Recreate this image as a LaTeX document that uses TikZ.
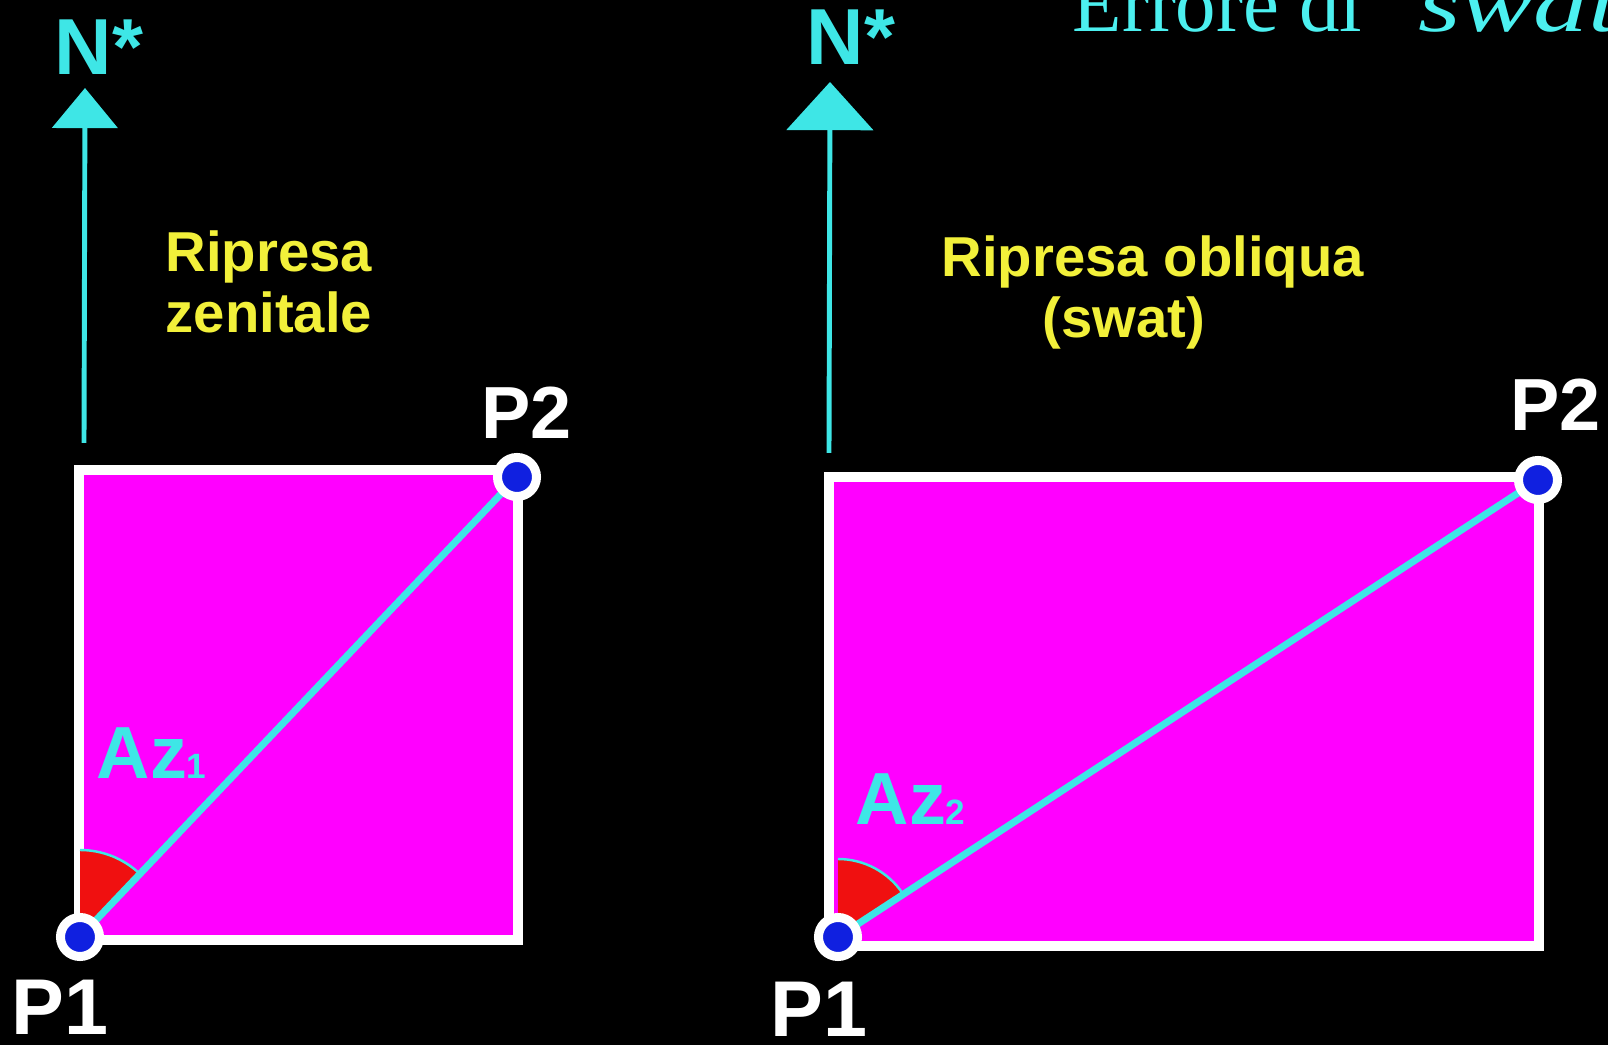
\documentclass[tikz,border=0pt]{standalone}
\usepackage{fontspec}
\setmainfont{Liberation Sans}
\newfontfamily\titleface{Liberation Serif}
\usepackage{tikz}
\usetikzlibrary{arrows.meta,positioning}
\definecolor{SwatCyan}{HTML}{3EE6E6}
\definecolor{SwatTitle}{HTML}{4CF0F0}
\definecolor{SwatMagenta}{HTML}{FF00FF}
\definecolor{SwatYellow}{HTML}{F2F03A}
\definecolor{SwatBlue}{HTML}{1020E0}
\definecolor{SwatRed}{HTML}{F01010}

\begin{document}
\begin{tikzpicture}[
    x=0.01cm, y=0.01cm,
    every node/.style={inner sep=0pt, anchor=base west},
    frame/.style={
        fill=SwatMagenta,
        draw=white,
        line width=2.85pt
    },
    sector/.style={fill=SwatRed},
    rim/.style={draw=SwatCyan, line width=0.7pt},
    diag/.style={draw=SwatCyan, line width=2pt},
    north/.style={
        draw=SwatCyan,
        line width=1.4pt
    },
    pt/.style={
        circle,
        anchor=center,
        fill=SwatBlue,
        draw=white,
        line width=2.56pt,
        minimum size=0.39cm,
        inner sep=0pt
    },
    nstar/.style={text=SwatCyan, font=\bfseries\fontsize{22.6pt}{24pt}\selectfont},
    mode/.style={text=SwatYellow, font=\bfseries\fontsize{16pt}{17pt}\selectfont},
    plabel/.style={text=white, font=\bfseries\fontsize{21pt}{22pt}\selectfont},
    azlabel/.style={text=SwatCyan, font=\bfseries\fontsize{21pt}{22pt}\selectfont}
]
\useasboundingbox (0,0) rectangle (1608,1045);
\fill[black] (0,0) rectangle (1608,1045);
\clip (0,0) rectangle (1608,1045);

% title, cut by the top edge
\node[text=SwatTitle, font=\titleface\fontsize{23pt}{24pt}\selectfont] (title) at (1072,1013)
    {Errore di “\scalebox{1.35}[1]{\textit{swat}}”};

% left panel: zenithal shot
\coordinate (a1) at (80,108);
\coordinate (a2) at (517,568);
\coordinate (nla) at (84,602);
\coordinate (nlb) at (85,957);
\draw[north, -{Triangle[length=11.4pt,width=18.5pt]}] (nla) -- (nlb);
\draw[frame] (79,105) rectangle (518,575);
\fill[sector] (a1) -- ++(90:87) arc[start angle=90, end angle=46.5, radius=87] -- cycle;
\draw[rim] (a1) ++(90:87) arc[start angle=90, end angle=46.5, radius=87];
\draw[diag] (a1) -- (a2);
\node[pt] (p1l) at (a1) {};
\node[pt] (p2l) at (a2) {};

\node[nstar] (nl) at (54,970) {N*};
\node[mode] (zl1) at (165,773) {Ripresa};
\node[mode] (zl2) at (165,712) {zenitale};
\node[azlabel] (az1) at (96,266) {Az{\fontsize{10pt}{10pt}\selectfont 1}};
\node[plabel] (t2l) at (481,606) {P2};
\node[plabel, font=\bfseries\fontsize{22.5pt}{23pt}\selectfont] (t1l) at (11,10) {P1};

% right panel: oblique shot
\coordinate (b1) at (838,108);
\coordinate (b2) at (1538,565);
\coordinate (nra) at (829,592);
\coordinate (nrb) at (830,963);
\draw[north, -{Triangle[length=13.7pt,width=24.5pt]}] (nra) -- (nrb);
\draw[frame] (829,99) rectangle (1539,568);
\fill[sector] (b1) -- ++(90:78) arc[start angle=90, end angle=33.1, radius=78] -- cycle;
\draw[rim] (b1) ++(90:78) arc[start angle=90, end angle=33.1, radius=78];
\draw[diag] (b1) -- (b2);
\node[pt] (p1r) at (b1) {};
\node[pt] (p2r) at (b2) {};

\node[nstar] (nr) at (806,980) {N*};
\node[mode] (ol1) at (941,768) {Ripresa obliqua};
\node[mode] (ol2) at (1042,707) {(swat)};
\node[azlabel] (az2) at (855,220) {Az{\fontsize{10pt}{10pt}\selectfont 2}};
\node[plabel] (t2r) at (1510,614) {P2};
\node[plabel, font=\bfseries\fontsize{22.5pt}{23pt}\selectfont] (t1r) at (770,8) {P1};

\end{tikzpicture}
\end{document}
